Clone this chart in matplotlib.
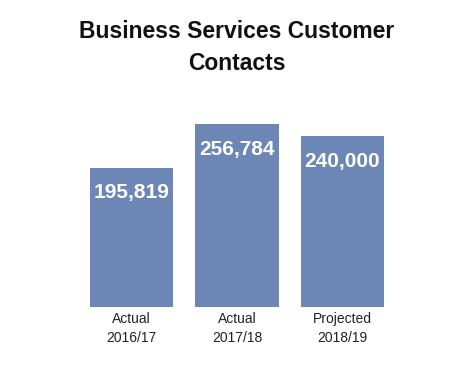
import matplotlib.pyplot as plt
import numpy as np

categories = ["Actual\n2016/17", "Actual\n2017/18", "Projected\n2018/19"]
contacts = [195819, 256784, 240000]
title = "Business Services Customer\nContacts"

plt.rcParams['font.family'] = ['Liberation Sans', 'DejaVu Sans']

W, H = 466, 368
fig = plt.figure(figsize=(W / 100, H / 100), dpi=100)

# axes placed in pixel terms: bottom of bars at y=307, width 70..400
left, right, top, bottom = 70, 400, 110, 307
ax = fig.add_axes([left / W, 1 - bottom / H, (right - left) / W, (bottom - top) / H])

x = np.arange(len(categories))
bars = ax.bar(x, contacts, width=0.79, color='#6c87b5')

ax.set_xlim(-0.583, 2.545)
ax.set_ylim(0, 276600)

for rect, val in zip(bars, contacts):
    ax.annotate(f'{val:,}',
                xy=(rect.get_x() + rect.get_width() / 2, rect.get_height()),
                xytext=(0, -18), textcoords="offset points",
                ha='center', va='center', color='white',
                fontsize=15, fontweight='bold')

ax.set_xticks(x)
ax.set_xticklabels(categories, fontsize=10, color='#222222', linespacing=1.45)
ax.tick_params(axis='x', length=0, pad=3.5)
ax.set_yticks([])
for s in ax.spines.values():
    s.set_visible(False)

fig.text(237 / W, 1 - 48 / H, title, ha='center', va='center',
         fontsize=16.5, fontweight='bold', color='#111111', linespacing=1.5)

fig.savefig("out.png", dpi=100)
